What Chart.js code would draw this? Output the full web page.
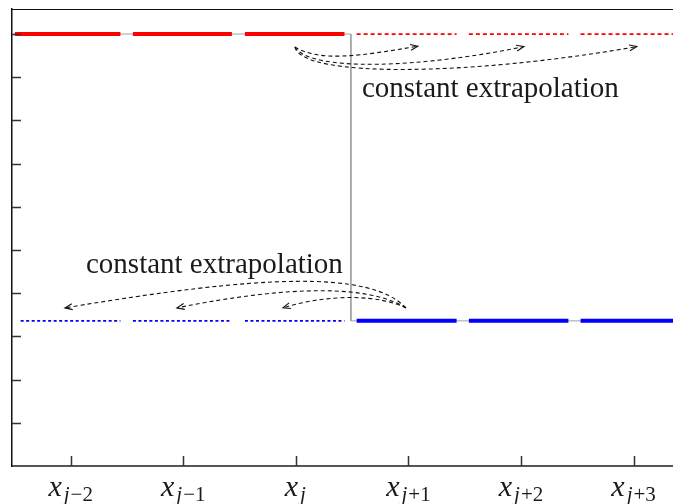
<!DOCTYPE html>
<html>
<head>
<meta charset="utf-8">
<script src="https://cdn.jsdelivr.net/npm/chart.js@4.4.1/dist/chart.umd.min.js"></script>
<style>
  html, body { margin: 0; padding: 0; background: #fff; }
  #wrap { position: relative; width: 673px; height: 504px; }
</style>
</head>
<body>
<div id="wrap"><canvas id="chart"></canvas></div>
<script>
// ----------------------------------------------------------------------
// data (x in grid-cell units, x_j-2 = 0 ... x_j+3 = 5)
// ----------------------------------------------------------------------
const xTickVals = [0, 1, 2, 3, 4, 5];
const xTickSubs = ['j\u22122', 'j\u22121', 'j', 'j+1', 'j+2', 'j+3'];
const yTickVals = [0, 0.1, 0.2, 0.3, 0.4, 0.5, 0.6, 0.7, 0.8, 0.9, 1.0];

const X_MIN = -0.521, X_MAX = 5.35;
const Y_MIN = 0, Y_MAX = 1.058;

const leftLevel = 1.0;      // red state
const rightLevel = 0.336;   // blue state
const jumpAt = 2.489;       // interface between x_j and x_j+1

const redSolidCells  = [[-0.495, 0.442], [0.553, 1.432], [1.548, 2.432]];
const redDashCells   = [[2.540, 3.428], [3.537, 4.421], [4.529, 5.40]];
const blueDashCells  = [[-0.444, 0.442], [0.553, 1.432], [1.548, 2.432]];
const blueSolidCells = [[2.540, 3.428], [3.537, 4.421], [4.529, 5.40]];

// extrapolation arrows: start, control1, control2, end
const topArrows = [
  [[1.992, 0.970], [2.214, 0.935], [2.569, 0.949], [3.084, 0.972]],
  [[1.992, 0.970], [2.125, 0.912], [3.102, 0.921], [4.026, 0.971]],
  [[1.992, 0.970], [2.054, 0.898], [3.546, 0.903], [5.029, 0.971]]
];
const bottomArrows = [
  [[2.978, 0.366], [2.658, 0.454], [1.681, 0.442], [-0.051, 0.366]],
  [[2.978, 0.366], [2.658, 0.419], [1.948, 0.419], [0.944, 0.366]],
  [[2.978, 0.366], [2.747, 0.396], [2.303, 0.400], [1.885, 0.366]]
];
const labelText = 'constant extrapolation';
const topLabelAt = [2.587, 0.854];
const bottomLabelAt = [0.136, 0.446];

// ----------------------------------------------------------------------
function segs(cells, y) {
  const out = [];
  cells.forEach(([l, r]) => {
    out.push({ x: l, y: y }, { x: r, y: y }, { x: r, y: null });
  });
  return out;
}

const SERIF = '"Liberation Serif", "DejaVu Serif", serif';

const decor = {
  id: 'decor',
  afterDatasetsDraw(chart) {
    const ctx = chart.ctx, xs = chart.scales.x, ys = chart.scales.y, a = chart.chartArea;
    const px = (p) => [xs.getPixelForValue(p[0]), ys.getPixelForValue(p[1])];
    ctx.save();

    // top frame line
    ctx.strokeStyle = '#111';
    ctx.lineWidth = 1.2;
    ctx.beginPath();
    ctx.moveTo(a.left, a.top + 0.5);
    ctx.lineTo(a.right, a.top + 0.5);
    ctx.stroke();

    // inward tick marks
    ctx.strokeStyle = '#333';
    ctx.lineWidth = 1.5;
    ctx.beginPath();
    ys.ticks.forEach(t => {
      if (t.value === Y_MIN) return;
      const y = Math.round(ys.getPixelForValue(t.value)) + 0.5;
      ctx.moveTo(a.left, y);
      ctx.lineTo(a.left + 9, y);
    });
    xs.ticks.forEach(t => {
      const x = Math.round(xs.getPixelForValue(t.value)) + 0.5;
      ctx.moveTo(x, a.bottom);
      ctx.lineTo(x, a.bottom - 10);
    });
    ctx.stroke();

    // arrows
    const drawArrow = (pts) => {
      const p = pts.map(px);
      ctx.strokeStyle = '#111';
      ctx.lineWidth = 1.1;
      ctx.setLineDash([4, 3]);
      ctx.beginPath();
      ctx.moveTo(p[0][0], p[0][1]);
      ctx.bezierCurveTo(p[1][0], p[1][1], p[2][0], p[2][1], p[3][0], p[3][1]);
      ctx.stroke();
      ctx.setLineDash([]);
      const end = p[3], prev = p[2];
      const ang = Math.atan2(end[1] - prev[1], end[0] - prev[0]);
      ctx.beginPath();
      ctx.moveTo(end[0] - 8 * Math.cos(ang - 0.38), end[1] - 8 * Math.sin(ang - 0.38));
      ctx.lineTo(end[0], end[1]);
      ctx.lineTo(end[0] - 8 * Math.cos(ang + 0.38), end[1] - 8 * Math.sin(ang + 0.38));
      ctx.stroke();
    };
    topArrows.forEach(drawArrow);
    bottomArrows.forEach(drawArrow);

    // annotation text
    ctx.fillStyle = '#1a1a1a';
    ctx.font = '29px ' + SERIF;
    ctx.textBaseline = 'alphabetic';
    ctx.textAlign = 'left';
    let p = px(topLabelAt);
    ctx.fillText(labelText, p[0], p[1]);
    p = px(bottomLabelAt);
    ctx.fillText(labelText, p[0], p[1]);

    ctx.restore();
  },
  afterDraw(chart) {
    // x tick labels: italic x with subscript
    const ctx = chart.ctx, xs = chart.scales.x, a = chart.chartArea;
    ctx.save();
    ctx.fillStyle = '#1a1a1a';
    ctx.textBaseline = 'alphabetic';
    ctx.textAlign = 'left';
    xTickVals.forEach((v, i) => {
      const sub = xTickSubs[i];
      const head = sub.charAt(0), rest = sub.slice(1);
      ctx.font = 'italic 30px ' + SERIF;
      const wx = ctx.measureText('x').width;
      ctx.font = 'italic 21px ' + SERIF;
      const wj = ctx.measureText(head).width;
      ctx.font = '21px ' + SERIF;
      const wr = ctx.measureText(rest).width;
      const total = wx + 2 + wj + 1 + wr;
      let x = xs.getPixelForValue(v) - total / 2;
      const base = a.bottom + 30;
      ctx.font = 'italic 30px ' + SERIF;
      ctx.fillText('x', x, base);
      x += wx + 2;
      ctx.font = 'italic 21px ' + SERIF;
      ctx.fillText(head, x, base + 5);
      x += wj + 1;
      ctx.font = '21px ' + SERIF;
      ctx.fillText(rest, x, base + 5);
    });
    ctx.restore();
  }
};

// ----------------------------------------------------------------------
const line = (data, color, width, dash) => ({
  data: data,
  borderColor: color,
  borderWidth: width,
  borderDash: dash || [],
  pointRadius: 0,
  fill: false,
  spanGaps: false,
  tension: 0
});

new Chart(document.getElementById('chart').getContext('2d'), {
  type: 'line',
  data: {
    datasets: [
      line(segs(redSolidCells, leftLevel), '#ff0000', 4),
      line(segs(blueSolidCells, rightLevel), '#0000ff', 4),
      line(segs(redDashCells, leftLevel), '#ff0000', 1.7, [4, 3]),
      line(segs(blueDashCells, rightLevel), '#0000ff', 1.7, [3, 2.5]),
      line([
        { x: X_MIN, y: leftLevel }, { x: jumpAt, y: leftLevel },
        { x: jumpAt, y: rightLevel }, { x: X_MAX, y: rightLevel }
      ], '#a0a0a0', 1)
    ]
  },
  options: {
    responsive: true,
    maintainAspectRatio: false,
    animation: false,
    devicePixelRatio: 1,
    layout: { padding: { left: 12, top: 9, right: 0, bottom: 38 } },
    plugins: { legend: { display: false }, tooltip: { enabled: false } },
    scales: {
      x: {
        type: 'linear', min: X_MIN, max: X_MAX,
        afterBuildTicks: s => { s.ticks = xTickVals.map(v => ({ value: v })); },
        ticks: { display: false },
        grid: { display: false, drawTicks: false },
        border: { display: true, color: '#555', width: 2 }
      },
      y: {
        type: 'linear', min: Y_MIN, max: Y_MAX,
        afterBuildTicks: s => { s.ticks = yTickVals.map(v => ({ value: v })); },
        ticks: { display: false },
        grid: { display: false, drawTicks: false },
        border: { display: true, color: '#111', width: 1.5 }
      }
    }
  },
  plugins: [decor]
});
</script>
</body>
</html>
